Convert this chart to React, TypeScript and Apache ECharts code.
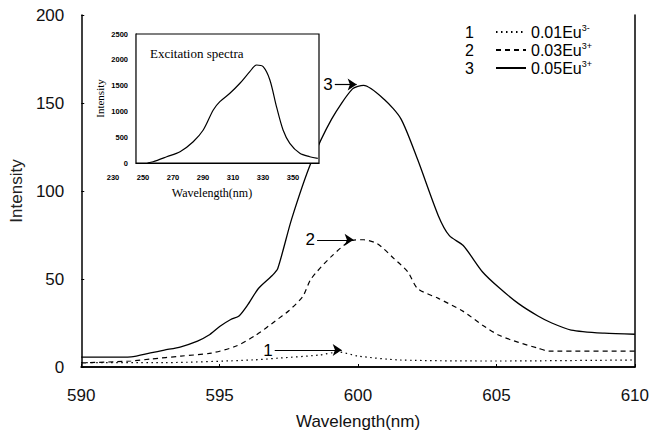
import React, { useEffect, useRef } from "react";
import * as echarts from "echarts";

// Main emission spectra (wavelength nm, intensity)
const wl1 = [590, 593, 596.2, 597.1, 598.6, 599.3, 600, 601.5, 605, 610];
const int1 = [2.5, 2.5, 4, 5, 6.8, 8.5, 6.2, 4, 3.4, 4];

const wl2 = [590, 591.8, 592.5, 593.6, 594.7, 595.6, 596.3, 597.0, 597.5, 598.0, 598.3, 599.05, 599.8, 600.2, 600.7, 601.3, 601.8, 602.15, 602.9, 603.8, 604.5, 605.1, 605.8, 606.5, 606.9, 610];
const int2 = [2.3, 3.4, 4.5, 6.2, 7.9, 11.9, 18, 26, 32, 40, 50, 63, 72, 72.3, 70, 61.6, 54, 44.6, 39, 31.6, 23.7, 18, 14, 10.7, 9, 9];

const wl3 = [590, 591, 591.8, 592.5, 593, 593.6, 594.2, 594.6, 595.0, 595.4, 595.7, 596.0, 596.4, 596.9, 597.1, 597.6, 598.3, 599.05, 599.8, 600.2, 600.95, 601.55, 602.15, 602.9, 603.3, 603.8, 604.5, 605.1, 605.8, 606.5, 607.0, 607.7, 608.9, 610];
const int3 = [5.6, 5.6, 5.8, 8, 9.6, 11.5, 14.7, 18, 23, 27, 29, 35, 44.6, 52, 56, 84, 116, 141, 158, 160, 152, 141, 118, 86, 74.6, 69, 54, 45, 36, 29, 25, 21, 19.2, 18.6];

// Inset excitation spectrum
const exWl = [253, 256.7, 265.8, 274.7, 283.5, 290.2, 296.9, 301.3, 308, 314.7, 321.3, 325.8, 330.2, 334.7, 339.1, 343.5, 348, 354.7, 361.3, 366.7];
const exInt = [0, 25, 121, 219, 413, 640, 1027, 1188, 1351, 1545, 1770, 1899, 1866, 1609, 1093, 640, 382, 188, 122, 90];
const exTickLabels = [230, 250, 270, 290, 310, 330, 350];

// Legend
const legendNumbers = ["1", "2", "3"];
const legendBase = ["0.01Eu", "0.03Eu", "0.05Eu"];
const legendSup = ["3-", "3+", "3+"];
const seriesNames = legendBase.map((b, i) => b + legendSup[i]);

// Arrow annotations: [startX, endX, y]
const arrow1 = [596.99, 599.41, 9.6];
const arrow2 = [598.52, 599.84, 72.3];
const arrow3 = [599.16, 599.95, 160.5];

const SANS = "Liberation Sans";
const SERIF = "Liberation Serif";

const pairs = (xs: number[], ys: number[]) => xs.map((x, i) => [x, ys[i]]);

const arrowMark = (a: number[], label: string) => ({
  silent: true,
  animation: false,
  symbol: ["none", "arrow"],
  symbolSize: 9,
  lineStyle: { type: "solid", color: "#000", width: 1.2 },
  label: {
    show: true,
    position: "start",
    formatter: label,
    color: "#000",
    fontFamily: SANS,
    fontSize: 17,
    distance: 2,
  },
  data: [[{ coord: [a[0], a[2]] }, { coord: [a[1], a[2]] }]],
});

export default function App() {
  const ref = useRef<HTMLDivElement>(null);
  useEffect(() => {
    document.body.style.margin = "0";
    const chart = echarts.init(ref.current!, undefined, { renderer: "svg" });
    const lineCommon = {
      type: "line",
      showSymbol: false,
      symbol: "none",
      smooth: 0.25,
      xAxisIndex: 0,
      yAxisIndex: 0,
      z: 3,
    };
    const option: any = {
      animation: false,
      backgroundColor: "#fff",
      title: {
        text: "Excitation spectra",
        left: 150,
        top: 47,
        padding: 0,
        textStyle: { fontFamily: SERIF, fontSize: 13, fontWeight: "normal", color: "#000" },
      },
      legend: {
        orient: "vertical",
        left: 490,
        top: 18,
        itemWidth: 30,
        itemHeight: 10,
        itemGap: 0,
        selectedMode: false,
        data: seriesNames,
        itemStyle: { opacity: 0 },
        formatter: (name: string) => {
          const i = seriesNames.indexOf(name);
          return `{b|${legendBase[i]}}{s|${legendSup[i]}}`;
        },
        textStyle: {
          color: "#000",
          fontFamily: SANS,
          fontSize: 16,
          lineHeight: 18,
          rich: {
            b: { fontFamily: SANS, fontSize: 16, color: "#000", lineHeight: 18 },
            s: { fontFamily: SANS, fontSize: 9, color: "#000", verticalAlign: "top", lineHeight: 12 },
          },
        },
      },
      graphic: legendNumbers.map((n, i) => ({
        type: "text",
        left: 465,
        top: 24 + i * 18,
        style: { text: n, fontFamily: SANS, fontSize: 16, fill: "#000" },
      })),
      grid: [
        { left: 76, top: 15, right: 15, bottom: 66, show: false },
        { left: 136, top: 34, width: 183, height: 129, show: true, backgroundColor: "#fff", borderColor: "#000", borderWidth: 1.2, z: 4 },
        { left: 113, top: 34, width: 180, height: 129, show: false },
      ],
      xAxis: [
        {
          type: "value",
          gridIndex: 0,
          min: 590,
          max: 610,
          interval: 5,
          name: "Wavelength(nm)",
          nameLocation: "middle",
          nameGap: 46,
          nameTextStyle: { fontFamily: SANS, fontSize: 17, color: "#111" },
          axisLine: { show: true, lineStyle: { color: "#000", width: 1.5 } },
          axisTick: { show: true, inside: true, length: 3, lineStyle: { color: "#000" } },
          axisLabel: { color: "#111", fontFamily: SANS, fontSize: 17, margin: 20 },
          splitLine: { show: false },
        },
        {
          type: "value",
          gridIndex: 0,
          position: "top",
          min: 590,
          max: 610,
          axisLine: { show: true, lineStyle: { color: "#000", width: 1.5 } },
          axisTick: { show: false },
          axisLabel: { show: false },
          splitLine: { show: false },
        },
        {
          type: "value",
          gridIndex: 1,
          min: 245.3,
          max: 367.5,
          axisLine: { show: true, lineStyle: { color: "#000", width: 1.2 } },
          axisTick: { show: false },
          axisLabel: { show: false },
          splitLine: { show: false },
        },
        {
          type: "value",
          gridIndex: 2,
          min: 230,
          max: 350,
          name: "Wavelength(nm)",
          nameLocation: "middle",
          nameGap: 24,
          nameTextStyle: { fontFamily: SERIF, fontSize: 12, color: "#000", padding: [0, 0, 0, 18] },
          axisLine: { show: false },
          axisTick: { show: false },
          axisLabel: {
            customValues: exTickLabels,
            formatter: (v: number) => String(v),
            color: "#000",
            fontFamily: SANS,
            fontWeight: "bold",
            fontSize: 7.5,
            margin: 10,
          },
          splitLine: { show: false },
        },
      ],
      yAxis: [
        {
          type: "value",
          gridIndex: 0,
          min: 0,
          max: 200,
          interval: 50,
          name: "Intensity",
          nameLocation: "middle",
          nameGap: 48,
          nameTextStyle: { fontFamily: SANS, fontSize: 17, color: "#222" },
          axisLine: { show: true, lineStyle: { color: "#000", width: 1.5 } },
          axisTick: { show: true, inside: true, length: 3, lineStyle: { color: "#000" } },
          axisLabel: { color: "#111", fontFamily: SANS, fontSize: 17, margin: 17 },
          splitLine: { show: false },
        },
        {
          type: "value",
          gridIndex: 0,
          position: "right",
          min: 0,
          max: 200,
          axisLine: { show: true, lineStyle: { color: "#000", width: 1.5 } },
          axisTick: { show: false },
          axisLabel: { show: false },
          splitLine: { show: false },
        },
        {
          type: "value",
          gridIndex: 1,
          min: 0,
          max: 2500,
          interval: 500,
          name: "Intensity",
          nameLocation: "middle",
          nameGap: 31,
          nameTextStyle: { fontFamily: SERIF, fontSize: 11, color: "#000" },
          axisLine: { show: true, lineStyle: { color: "#000", width: 1.2 } },
          axisTick: { show: false },
          axisLabel: {
            formatter: (v: number) => String(v),
            color: "#000",
            fontFamily: SANS,
            fontWeight: "bold",
            fontSize: 7.5,
            margin: 8,
          },
          splitLine: { show: false },
        },
        { type: "value", gridIndex: 2, show: false, min: 0, max: 2500 },
      ],
      series: [
        {
          ...lineCommon,
          name: seriesNames[0],
          data: pairs(wl1, int1),
          lineStyle: { color: "#000", width: 1.2, type: [1.5, 3.5] },
          itemStyle: { color: "#000" },
          markLine: arrowMark(arrow1, legendNumbers[0]),
        },
        {
          ...lineCommon,
          name: seriesNames[1],
          data: pairs(wl2, int2),
          lineStyle: { color: "#000", width: 1.2, type: [5, 4] },
          itemStyle: { color: "#000" },
          markLine: arrowMark(arrow2, legendNumbers[1]),
        },
        {
          ...lineCommon,
          name: seriesNames[2],
          data: pairs(wl3, int3),
          lineStyle: { color: "#000", width: 1.3, type: "solid" },
          itemStyle: { color: "#000" },
          markLine: arrowMark(arrow3, legendNumbers[2]),
        },
        {
          type: "line",
          name: "Excitation spectra",
          xAxisIndex: 2,
          yAxisIndex: 2,
          showSymbol: false,
          symbol: "none",
          smooth: 0.3,
          z: 5,
          data: pairs(exWl, exInt),
          lineStyle: { color: "#000", width: 1.2 },
        },
      ],
    };
    chart.setOption(option);
    return () => chart.dispose();
  }, []);
  return <div ref={ref} style={{ width: 652, height: 435 }} />;
}
